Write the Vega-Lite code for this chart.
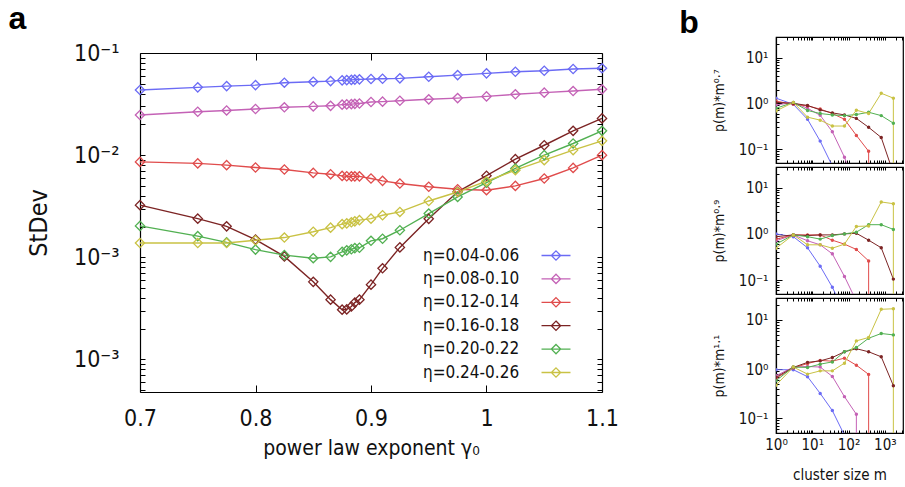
{
  "$schema": "https://vega.github.io/schema/vega-lite/v6.json",
  "padding": {"left": 8, "top": 3, "right": 0, "bottom": 0},
  "spacing": 59,
  "config": {
    "view": {"stroke": "#000", "strokeWidth": 1.2},
    "axis": {"grid": false, "labelFont": "DejaVu Sans Condensed, DejaVu Sans", "titleFont": "DejaVu Sans Condensed, DejaVu Sans", "domainColor": "#000", "domainWidth": 1.2, "tickColor": "#000", "labelColor": "#111", "titleColor": "#111", "titleFontWeight": "normal", "labelOverlap": false, "labelFlush": false},
    "title": {"font": "Liberation Sans", "fontWeight": "bold", "fontSize": 32, "color": "#000"}
  },
  "datasets": {
    "a": [
      {"g":0.7,"s":0.0434,"e":"η=0.04-0.06"},{"g":0.75,"s":0.0461,"e":"η=0.04-0.06"},{"g":0.775,"s":0.0474,"e":"η=0.04-0.06"},{"g":0.8,"s":0.0485,"e":"η=0.04-0.06"},{"g":0.825,"s":0.0512,"e":"η=0.04-0.06"},{"g":0.85,"s":0.0523,"e":"η=0.04-0.06"},{"g":0.865,"s":0.0531,"e":"η=0.04-0.06"},{"g":0.875,"s":0.054,"e":"η=0.04-0.06"},{"g":0.879,"s":0.0543,"e":"η=0.04-0.06"},{"g":0.883,"s":0.0546,"e":"η=0.04-0.06"},{"g":0.886,"s":0.0549,"e":"η=0.04-0.06"},{"g":0.89,"s":0.0552,"e":"η=0.04-0.06"},{"g":0.9,"s":0.0556,"e":"η=0.04-0.06"},{"g":0.91,"s":0.056,"e":"η=0.04-0.06"},{"g":0.925,"s":0.0565,"e":"η=0.04-0.06"},{"g":0.95,"s":0.0586,"e":"η=0.04-0.06"},{"g":0.975,"s":0.0608,"e":"η=0.04-0.06"},{"g":1.0,"s":0.0632,"e":"η=0.04-0.06"},{"g":1.025,"s":0.0656,"e":"η=0.04-0.06"},{"g":1.05,"s":0.067,"e":"η=0.04-0.06"},{"g":1.075,"s":0.0697,"e":"η=0.04-0.06"},{"g":1.1,"s":0.0708,"e":"η=0.04-0.06"},
      {"g":0.7,"s":0.0247,"e":"η=0.08-0.10"},{"g":0.75,"s":0.0266,"e":"η=0.08-0.10"},{"g":0.775,"s":0.0274,"e":"η=0.08-0.10"},{"g":0.8,"s":0.0283,"e":"η=0.08-0.10"},{"g":0.825,"s":0.0294,"e":"η=0.08-0.10"},{"g":0.85,"s":0.03,"e":"η=0.08-0.10"},{"g":0.865,"s":0.0304,"e":"η=0.08-0.10"},{"g":0.875,"s":0.0312,"e":"η=0.08-0.10"},{"g":0.879,"s":0.0314,"e":"η=0.08-0.10"},{"g":0.883,"s":0.0316,"e":"η=0.08-0.10"},{"g":0.886,"s":0.0318,"e":"η=0.08-0.10"},{"g":0.89,"s":0.032,"e":"η=0.08-0.10"},{"g":0.9,"s":0.0331,"e":"η=0.08-0.10"},{"g":0.91,"s":0.0334,"e":"η=0.08-0.10"},{"g":0.925,"s":0.0341,"e":"η=0.08-0.10"},{"g":0.95,"s":0.0352,"e":"η=0.08-0.10"},{"g":0.975,"s":0.0362,"e":"η=0.08-0.10"},{"g":1.0,"s":0.0376,"e":"η=0.08-0.10"},{"g":1.025,"s":0.0394,"e":"η=0.08-0.10"},{"g":1.05,"s":0.0409,"e":"η=0.08-0.10"},{"g":1.075,"s":0.0424,"e":"η=0.08-0.10"},{"g":1.1,"s":0.0441,"e":"η=0.08-0.10"},
      {"g":0.7,"s":0.00859,"e":"η=0.12-0.14"},{"g":0.75,"s":0.0083,"e":"η=0.12-0.14"},{"g":0.775,"s":0.00798,"e":"η=0.12-0.14"},{"g":0.8,"s":0.00757,"e":"η=0.12-0.14"},{"g":0.825,"s":0.00724,"e":"η=0.12-0.14"},{"g":0.85,"s":0.0067,"e":"η=0.12-0.14"},{"g":0.865,"s":0.00651,"e":"η=0.12-0.14"},{"g":0.875,"s":0.00626,"e":"η=0.12-0.14"},{"g":0.879,"s":0.00622,"e":"η=0.12-0.14"},{"g":0.883,"s":0.0062,"e":"η=0.12-0.14"},{"g":0.886,"s":0.0062,"e":"η=0.12-0.14"},{"g":0.89,"s":0.0062,"e":"η=0.12-0.14"},{"g":0.9,"s":0.00591,"e":"η=0.12-0.14"},{"g":0.91,"s":0.0056,"e":"η=0.12-0.14"},{"g":0.925,"s":0.00528,"e":"η=0.12-0.14"},{"g":0.95,"s":0.0049,"e":"η=0.12-0.14"},{"g":0.975,"s":0.00464,"e":"η=0.12-0.14"},{"g":1.0,"s":0.00454,"e":"η=0.12-0.14"},{"g":1.025,"s":0.005,"e":"η=0.12-0.14"},{"g":1.05,"s":0.00591,"e":"η=0.12-0.14"},{"g":1.075,"s":0.0075,"e":"η=0.12-0.14"},{"g":1.1,"s":0.01,"e":"η=0.12-0.14"},
      {"g":0.7,"s":0.00324,"e":"η=0.16-0.18"},{"g":0.75,"s":0.00239,"e":"η=0.16-0.18"},{"g":0.775,"s":0.00201,"e":"η=0.16-0.18"},{"g":0.8,"s":0.00149,"e":"η=0.16-0.18"},{"g":0.825,"s":0.00102,"e":"η=0.16-0.18"},{"g":0.85,"s":0.000575,"e":"η=0.16-0.18"},{"g":0.865,"s":0.000385,"e":"η=0.16-0.18"},{"g":0.875,"s":0.000307,"e":"η=0.16-0.18"},{"g":0.879,"s":0.000309,"e":"η=0.16-0.18"},{"g":0.883,"s":0.00033,"e":"η=0.16-0.18"},{"g":0.886,"s":0.00036,"e":"η=0.16-0.18"},{"g":0.89,"s":0.000385,"e":"η=0.16-0.18"},{"g":0.9,"s":0.00054,"e":"η=0.16-0.18"},{"g":0.91,"s":0.00078,"e":"η=0.16-0.18"},{"g":0.925,"s":0.00125,"e":"η=0.16-0.18"},{"g":0.95,"s":0.00238,"e":"η=0.16-0.18"},{"g":0.975,"s":0.00438,"e":"η=0.16-0.18"},{"g":1.0,"s":0.00629,"e":"η=0.16-0.18"},{"g":1.025,"s":0.00914,"e":"η=0.16-0.18"},{"g":1.05,"s":0.0125,"e":"η=0.16-0.18"},{"g":1.075,"s":0.0173,"e":"η=0.16-0.18"},{"g":1.1,"s":0.0229,"e":"η=0.16-0.18"},
      {"g":0.7,"s":0.00203,"e":"η=0.20-0.22"},{"g":0.75,"s":0.00161,"e":"η=0.20-0.22"},{"g":0.775,"s":0.0014,"e":"η=0.20-0.22"},{"g":0.8,"s":0.00119,"e":"η=0.20-0.22"},{"g":0.825,"s":0.00105,"e":"η=0.20-0.22"},{"g":0.85,"s":0.00098,"e":"η=0.20-0.22"},{"g":0.865,"s":0.00101,"e":"η=0.20-0.22"},{"g":0.875,"s":0.00113,"e":"η=0.20-0.22"},{"g":0.879,"s":0.00117,"e":"η=0.20-0.22"},{"g":0.883,"s":0.0012,"e":"η=0.20-0.22"},{"g":0.886,"s":0.00123,"e":"η=0.20-0.22"},{"g":0.89,"s":0.00124,"e":"η=0.20-0.22"},{"g":0.9,"s":0.00145,"e":"η=0.20-0.22"},{"g":0.91,"s":0.00152,"e":"η=0.20-0.22"},{"g":0.925,"s":0.00184,"e":"η=0.20-0.22"},{"g":0.95,"s":0.00268,"e":"η=0.20-0.22"},{"g":0.975,"s":0.0039,"e":"η=0.20-0.22"},{"g":1.0,"s":0.00537,"e":"η=0.20-0.22"},{"g":1.025,"s":0.00741,"e":"η=0.20-0.22"},{"g":1.05,"s":0.01,"e":"η=0.20-0.22"},{"g":1.075,"s":0.013,"e":"η=0.20-0.22"},{"g":1.1,"s":0.0173,"e":"η=0.20-0.22"},
      {"g":0.7,"s":0.00138,"e":"η=0.24-0.26"},{"g":0.75,"s":0.00138,"e":"η=0.24-0.26"},{"g":0.775,"s":0.00138,"e":"η=0.24-0.26"},{"g":0.8,"s":0.00147,"e":"η=0.24-0.26"},{"g":0.825,"s":0.00156,"e":"η=0.24-0.26"},{"g":0.85,"s":0.00178,"e":"η=0.24-0.26"},{"g":0.865,"s":0.00195,"e":"η=0.24-0.26"},{"g":0.875,"s":0.00211,"e":"η=0.24-0.26"},{"g":0.879,"s":0.00215,"e":"η=0.24-0.26"},{"g":0.883,"s":0.0022,"e":"η=0.24-0.26"},{"g":0.886,"s":0.00225,"e":"η=0.24-0.26"},{"g":0.89,"s":0.00231,"e":"η=0.24-0.26"},{"g":0.9,"s":0.00239,"e":"η=0.24-0.26"},{"g":0.91,"s":0.00258,"e":"η=0.24-0.26"},{"g":0.925,"s":0.00278,"e":"η=0.24-0.26"},{"g":0.95,"s":0.00356,"e":"η=0.24-0.26"},{"g":0.975,"s":0.00436,"e":"η=0.24-0.26"},{"g":1.0,"s":0.00556,"e":"η=0.24-0.26"},{"g":1.025,"s":0.00713,"e":"η=0.24-0.26"},{"g":1.05,"s":0.00893,"e":"η=0.24-0.26"},{"g":1.075,"s":0.0112,"e":"η=0.24-0.26"},{"g":1.1,"s":0.0138,"e":"η=0.24-0.26"}
    ],
    "b": [
      {"p":0.7,"m":1,"v":1.3,"e":"η=0.04-0.06","i":0},{"p":0.7,"m":3,"v":0.95,"e":"η=0.04-0.06","i":1},{"p":0.7,"m":7.4,"v":0.45,"e":"η=0.04-0.06","i":2},{"p":0.7,"m":16.5,"v":0.15,"e":"η=0.04-0.06","i":3},{"p":0.7,"m":35.7,"v":0.043,"e":"η=0.04-0.06","i":4},
      {"p":0.7,"m":1,"v":0.92,"e":"η=0.08-0.10","i":0},{"p":0.7,"m":3,"v":1.05,"e":"η=0.08-0.10","i":1},{"p":0.7,"m":7.4,"v":0.78,"e":"η=0.08-0.10","i":2},{"p":0.7,"m":16.5,"v":0.55,"e":"η=0.08-0.10","i":3},{"p":0.7,"m":35.7,"v":0.24,"e":"η=0.08-0.10","i":4},{"p":0.7,"m":77,"v":0.067,"e":"η=0.08-0.10","i":5},{"p":0.7,"m":164,"v":0.012,"e":"η=0.08-0.10","i":6},
      {"p":0.7,"m":1,"v":1.12,"e":"η=0.12-0.14","i":0},{"p":0.7,"m":3,"v":0.95,"e":"η=0.12-0.14","i":1},{"p":0.7,"m":7.4,"v":0.88,"e":"η=0.12-0.14","i":2},{"p":0.7,"m":16.5,"v":0.75,"e":"η=0.12-0.14","i":3},{"p":0.7,"m":35.7,"v":0.6,"e":"η=0.12-0.14","i":4},{"p":0.7,"m":77,"v":0.45,"e":"η=0.12-0.14","i":5},{"p":0.7,"m":164,"v":0.2,"e":"η=0.12-0.14","i":6},{"p":0.7,"m":357,"v":0.09,"e":"η=0.12-0.14","i":7},{"p":0.7,"m":357,"v":0.001,"e":"η=0.12-0.14","i":8},
      {"p":0.7,"m":1,"v":1.05,"e":"η=0.16-0.18","i":0},{"p":0.7,"m":3,"v":1.0,"e":"η=0.16-0.18","i":1},{"p":0.7,"m":7.4,"v":0.9,"e":"η=0.16-0.18","i":2},{"p":0.7,"m":16.5,"v":0.72,"e":"η=0.16-0.18","i":3},{"p":0.7,"m":35.7,"v":0.62,"e":"η=0.16-0.18","i":4},{"p":0.7,"m":77,"v":0.56,"e":"η=0.16-0.18","i":5},{"p":0.7,"m":164,"v":0.47,"e":"η=0.16-0.18","i":6},{"p":0.7,"m":357,"v":0.3,"e":"η=0.16-0.18","i":7},{"p":0.7,"m":795,"v":0.18,"e":"η=0.16-0.18","i":8},{"p":0.7,"m":1715,"v":0.03,"e":"η=0.16-0.18","i":9},
      {"p":0.7,"m":1,"v":0.78,"e":"η=0.20-0.22","i":0},{"p":0.7,"m":3,"v":1.05,"e":"η=0.20-0.22","i":1},{"p":0.7,"m":7.4,"v":0.7,"e":"η=0.20-0.22","i":2},{"p":0.7,"m":16.5,"v":0.6,"e":"η=0.20-0.22","i":3},{"p":0.7,"m":35.7,"v":0.56,"e":"η=0.20-0.22","i":4},{"p":0.7,"m":77,"v":0.54,"e":"η=0.20-0.22","i":5},{"p":0.7,"m":164,"v":0.57,"e":"η=0.20-0.22","i":6},{"p":0.7,"m":357,"v":0.64,"e":"η=0.20-0.22","i":7},{"p":0.7,"m":795,"v":0.54,"e":"η=0.20-0.22","i":8},{"p":0.7,"m":1715,"v":0.37,"e":"η=0.20-0.22","i":9},
      {"p":0.7,"m":1,"v":0.68,"e":"η=0.24-0.26","i":0},{"p":0.7,"m":3,"v":1.05,"e":"η=0.24-0.26","i":1},{"p":0.7,"m":7.4,"v":0.5,"e":"η=0.24-0.26","i":2},{"p":0.7,"m":16.5,"v":0.43,"e":"η=0.24-0.26","i":3},{"p":0.7,"m":35.7,"v":0.32,"e":"η=0.24-0.26","i":4},{"p":0.7,"m":77,"v":0.32,"e":"η=0.24-0.26","i":5},{"p":0.7,"m":164,"v":0.71,"e":"η=0.24-0.26","i":6},{"p":0.7,"m":357,"v":0.6,"e":"η=0.24-0.26","i":7},{"p":0.7,"m":795,"v":1.66,"e":"η=0.24-0.26","i":8},{"p":0.7,"m":1715,"v":1.3,"e":"η=0.24-0.26","i":9},{"p":0.7,"m":1715,"v":0.001,"e":"η=0.24-0.26","i":10},
      {"p":0.9,"m":1,"v":1.0,"e":"η=0.04-0.06","i":0},{"p":0.9,"m":3,"v":0.87,"e":"η=0.04-0.06","i":1},{"p":0.9,"m":7.4,"v":0.5,"e":"η=0.04-0.06","i":2},{"p":0.9,"m":16.5,"v":0.2,"e":"η=0.04-0.06","i":3},{"p":0.9,"m":35.7,"v":0.07,"e":"η=0.04-0.06","i":4},{"p":0.9,"m":77,"v":0.02,"e":"η=0.04-0.06","i":5},
      {"p":0.9,"m":1,"v":0.71,"e":"η=0.08-0.10","i":0},{"p":0.9,"m":3,"v":0.95,"e":"η=0.08-0.10","i":1},{"p":0.9,"m":7.4,"v":0.71,"e":"η=0.08-0.10","i":2},{"p":0.9,"m":16.5,"v":0.58,"e":"η=0.08-0.10","i":3},{"p":0.9,"m":35.7,"v":0.37,"e":"η=0.08-0.10","i":4},{"p":0.9,"m":77,"v":0.12,"e":"η=0.08-0.10","i":5},{"p":0.9,"m":164,"v":0.035,"e":"η=0.08-0.10","i":6},
      {"p":0.9,"m":1,"v":0.77,"e":"η=0.12-0.14","i":0},{"p":0.9,"m":3,"v":0.95,"e":"η=0.12-0.14","i":1},{"p":0.9,"m":7.4,"v":0.95,"e":"η=0.12-0.14","i":2},{"p":0.9,"m":16.5,"v":0.95,"e":"η=0.12-0.14","i":3},{"p":0.9,"m":35.7,"v":0.73,"e":"η=0.12-0.14","i":4},{"p":0.9,"m":77,"v":0.6,"e":"η=0.12-0.14","i":5},{"p":0.9,"m":164,"v":0.46,"e":"η=0.12-0.14","i":6},{"p":0.9,"m":357,"v":0.26,"e":"η=0.12-0.14","i":7},{"p":0.9,"m":357,"v":0.001,"e":"η=0.12-0.14","i":8},
      {"p":0.9,"m":1,"v":0.87,"e":"η=0.16-0.18","i":0},{"p":0.9,"m":3,"v":0.95,"e":"η=0.16-0.18","i":1},{"p":0.9,"m":7.4,"v":0.92,"e":"η=0.16-0.18","i":2},{"p":0.9,"m":16.5,"v":0.95,"e":"η=0.16-0.18","i":3},{"p":0.9,"m":35.7,"v":0.95,"e":"η=0.16-0.18","i":4},{"p":0.9,"m":77,"v":1.0,"e":"η=0.16-0.18","i":5},{"p":0.9,"m":164,"v":1.03,"e":"η=0.16-0.18","i":6},{"p":0.9,"m":357,"v":0.73,"e":"η=0.16-0.18","i":7},{"p":0.9,"m":795,"v":0.5,"e":"η=0.16-0.18","i":8},{"p":0.9,"m":1715,"v":0.105,"e":"η=0.16-0.18","i":9},
      {"p":0.9,"m":1,"v":0.6,"e":"η=0.20-0.22","i":0},{"p":0.9,"m":3,"v":0.95,"e":"η=0.20-0.22","i":1},{"p":0.9,"m":7.4,"v":0.87,"e":"η=0.20-0.22","i":2},{"p":0.9,"m":16.5,"v":0.77,"e":"η=0.20-0.22","i":3},{"p":0.9,"m":35.7,"v":0.92,"e":"η=0.20-0.22","i":4},{"p":0.9,"m":77,"v":1.0,"e":"η=0.20-0.22","i":5},{"p":0.9,"m":164,"v":1.09,"e":"η=0.20-0.22","i":6},{"p":0.9,"m":357,"v":1.58,"e":"η=0.20-0.22","i":7},{"p":0.9,"m":795,"v":1.58,"e":"η=0.20-0.22","i":8},{"p":0.9,"m":1715,"v":1.25,"e":"η=0.20-0.22","i":9},
      {"p":0.9,"m":1,"v":0.49,"e":"η=0.24-0.26","i":0},{"p":0.9,"m":3,"v":0.95,"e":"η=0.24-0.26","i":1},{"p":0.9,"m":7.4,"v":0.58,"e":"η=0.24-0.26","i":2},{"p":0.9,"m":16.5,"v":0.58,"e":"η=0.24-0.26","i":3},{"p":0.9,"m":35.7,"v":0.49,"e":"η=0.24-0.26","i":4},{"p":0.9,"m":77,"v":0.6,"e":"η=0.24-0.26","i":5},{"p":0.9,"m":164,"v":1.45,"e":"η=0.24-0.26","i":6},{"p":0.9,"m":357,"v":1.48,"e":"η=0.24-0.26","i":7},{"p":0.9,"m":795,"v":4.9,"e":"η=0.24-0.26","i":8},{"p":0.9,"m":1715,"v":4.5,"e":"η=0.24-0.26","i":9},{"p":0.9,"m":1715,"v":0.001,"e":"η=0.24-0.26","i":10},
      {"p":1.1,"m":1,"v":0.97,"e":"η=0.04-0.06","i":0},{"p":1.1,"m":3,"v":0.97,"e":"η=0.04-0.06","i":1},{"p":1.1,"m":7.4,"v":0.7,"e":"η=0.04-0.06","i":2},{"p":1.1,"m":16.5,"v":0.32,"e":"η=0.04-0.06","i":3},{"p":1.1,"m":35.7,"v":0.143,"e":"η=0.04-0.06","i":4},{"p":1.1,"m":77,"v":0.045,"e":"η=0.04-0.06","i":5},
      {"p":1.1,"m":1,"v":0.73,"e":"η=0.08-0.10","i":0},{"p":1.1,"m":3,"v":1.1,"e":"η=0.08-0.10","i":1},{"p":1.1,"m":7.4,"v":1.13,"e":"η=0.08-0.10","i":2},{"p":1.1,"m":16.5,"v":1.1,"e":"η=0.08-0.10","i":3},{"p":1.1,"m":35.7,"v":0.71,"e":"η=0.08-0.10","i":4},{"p":1.1,"m":77,"v":0.275,"e":"η=0.08-0.10","i":5},{"p":1.1,"m":164,"v":0.12,"e":"η=0.08-0.10","i":6},{"p":1.1,"m":164,"v":0.001,"e":"η=0.08-0.10","i":7},
      {"p":1.1,"m":1,"v":0.65,"e":"η=0.12-0.14","i":0},{"p":1.1,"m":3,"v":1.05,"e":"η=0.12-0.14","i":1},{"p":1.1,"m":7.4,"v":1.3,"e":"η=0.12-0.14","i":2},{"p":1.1,"m":16.5,"v":1.5,"e":"η=0.12-0.14","i":3},{"p":1.1,"m":35.7,"v":1.45,"e":"η=0.12-0.14","i":4},{"p":1.1,"m":77,"v":1.67,"e":"η=0.12-0.14","i":5},{"p":1.1,"m":164,"v":1.2,"e":"η=0.12-0.14","i":6},{"p":1.1,"m":357,"v":0.78,"e":"η=0.12-0.14","i":7},{"p":1.1,"m":357,"v":0.001,"e":"η=0.12-0.14","i":8},
      {"p":1.1,"m":1,"v":0.68,"e":"η=0.16-0.18","i":0},{"p":1.1,"m":3,"v":1.08,"e":"η=0.16-0.18","i":1},{"p":1.1,"m":7.4,"v":1.37,"e":"η=0.16-0.18","i":2},{"p":1.1,"m":16.5,"v":1.47,"e":"η=0.16-0.18","i":3},{"p":1.1,"m":35.7,"v":1.72,"e":"η=0.16-0.18","i":4},{"p":1.1,"m":77,"v":2.25,"e":"η=0.16-0.18","i":5},{"p":1.1,"m":164,"v":2.6,"e":"η=0.16-0.18","i":6},{"p":1.1,"m":357,"v":2.25,"e":"η=0.16-0.18","i":7},{"p":1.1,"m":795,"v":1.78,"e":"η=0.16-0.18","i":8},{"p":1.1,"m":1715,"v":0.46,"e":"η=0.16-0.18","i":9},
      {"p":1.1,"m":1,"v":0.58,"e":"η=0.20-0.22","i":0},{"p":1.1,"m":3,"v":1.1,"e":"η=0.20-0.22","i":1},{"p":1.1,"m":7.4,"v":1.08,"e":"η=0.20-0.22","i":2},{"p":1.1,"m":16.5,"v":1.26,"e":"η=0.20-0.22","i":3},{"p":1.1,"m":35.7,"v":1.4,"e":"η=0.20-0.22","i":4},{"p":1.1,"m":77,"v":2.25,"e":"η=0.20-0.22","i":5},{"p":1.1,"m":164,"v":2.75,"e":"η=0.20-0.22","i":6},{"p":1.1,"m":357,"v":4.25,"e":"η=0.20-0.22","i":7},{"p":1.1,"m":795,"v":5.3,"e":"η=0.20-0.22","i":8},{"p":1.1,"m":1715,"v":4.97,"e":"η=0.20-0.22","i":9},
      {"p":1.1,"m":1,"v":0.47,"e":"η=0.24-0.26","i":0},{"p":1.1,"m":3,"v":1.1,"e":"η=0.24-0.26","i":1},{"p":1.1,"m":7.4,"v":0.79,"e":"η=0.24-0.26","i":2},{"p":1.1,"m":16.5,"v":0.92,"e":"η=0.24-0.26","i":3},{"p":1.1,"m":35.7,"v":0.92,"e":"η=0.24-0.26","i":4},{"p":1.1,"m":77,"v":1.32,"e":"η=0.24-0.26","i":5},{"p":1.1,"m":164,"v":3.75,"e":"η=0.24-0.26","i":6},{"p":1.1,"m":357,"v":4.4,"e":"η=0.24-0.26","i":7},{"p":1.1,"m":795,"v":16.5,"e":"η=0.24-0.26","i":8},{"p":1.1,"m":1715,"v":16.9,"e":"η=0.24-0.26","i":9},{"p":1.1,"m":1715,"v":0.001,"e":"η=0.24-0.26","i":10}
    ]
  },
  "hconcat": [
    {
      "width": 462, "height": 355,
      "view": {"stroke": null},
      "title": {"text": "a", "anchor": "start", "frame": "bounds", "offset": 1, "dx": -18},
      "data": {"name": "a"},
      "layer": [
        {
          "mark": {"type": "line", "strokeWidth": 1.4},
          "encoding": {
            "x": {"field": "g", "type": "quantitative", "scale": {"domain": [0.7, 1.1], "nice": false, "zero": false},
              "axis": {"orient": "bottom", "values": [0.7, 0.8, 0.9, 1.0, 1.1], "format": "~g", "tickSize": -7, "labelPadding": 22, "labelFontSize": 23, "title": "power law exponent γ₀", "titleFontSize": 21, "titlePadding": 7}},
            "y": {"field": "s", "type": "quantitative", "scale": {"type": "log", "domain": [0.000048, 0.1], "range": [355, 16], "nice": false},
              "axis": {"orient": "left", "values": [0.00005,0.00006,0.00007,0.00008,0.00009,0.0001,0.0002,0.0003,0.0004,0.0005,0.0006,0.0007,0.0008,0.0009,0.001,0.002,0.003,0.004,0.005,0.006,0.007,0.008,0.009,0.01,0.02,0.03,0.04,0.05,0.06,0.07,0.08,0.09,0.1],
                "labelExpr": "datum.value == 0.1 ? '10⁻¹' : datum.value == 0.01 ? '10⁻²' : datum.value == 0.001 ? '10⁻³' : datum.value == 0.0001 ? '10⁻³' : ''",
                "labelFontSize": {"condition": {"test": "datum.value == 0.1 || datum.value == 0.01 || datum.value == 0.001 || datum.value == 0.0001", "value": 23}, "value": 0},
                "tickSize": -5, "labelPadding": 26, "title": "StDev", "titleFontSize": 25, "titlePadding": 22}},
            "color": {"field": "e", "type": "nominal",
              "scale": {"domain": ["η=0.04-0.06","η=0.08-0.10","η=0.12-0.14","η=0.16-0.18","η=0.20-0.22","η=0.24-0.26"], "range": ["#6b6bf5","#c462b6","#e04c4c","#7c2424","#52b052","#c9c244"]},
              "legend": {"title": null, "orient": "none", "legendX": 283, "legendY": 210, "padding": 0, "rowPadding": 5.4, "labelFont": "DejaVu Sans Condensed, DejaVu Sans", "labelFontSize": 17, "labelColor": "#111", "labelLimit": 300,
                "symbolType": "M-2,0H2M0,-0.64L0.64,0L0,0.64L-0.64,0Z", "symbolSize": 210, "symbolStrokeWidth": 1.3, "symbolFillColor": "transparent",
                "encode": {"symbols": {"update": {"x": {"value": 133}, "fill": {"value": "transparent"}, "fillOpacity": {"value": 0}}}, "labels": {"update": {"x": {"value": 0}}}}}}
          }
        },
        {
          "mark": {"type": "point", "shape": "diamond", "filled": false, "size": 86, "strokeWidth": 1.3, "opacity": 1},
          "encoding": {
            "x": {"field": "g", "type": "quantitative", "scale": {"domain": [0.7, 1.1], "nice": false, "zero": false},
              "axis": {"orient": "top", "offset": -16, "values": [0.8, 0.9, 1.0], "labels": false, "tickSize": -7, "title": null}},
            "y": {"field": "s", "type": "quantitative", "scale": {"type": "log", "domain": [0.000048, 0.1], "range": [355, 16], "nice": false},
              "axis": {"orient": "right", "values": [0.00005,0.00006,0.00007,0.00008,0.00009,0.0001,0.0002,0.0003,0.0004,0.0005,0.0006,0.0007,0.0008,0.0009,0.001,0.002,0.003,0.004,0.005,0.006,0.007,0.008,0.009,0.01,0.02,0.03,0.04,0.05,0.06,0.07,0.08,0.09,0.1], "labels": false, "tickSize": -5, "title": null}},
            "color": {"field": "e", "type": "nominal"}
          }
        }
      ],
      "resolve": {"axis": {"x": "independent", "y": "independent"}}
    },
    {
      "spacing": 0,
      "vconcat": [
        {
          "width": 127, "height": 126,
          "title": {"text": "b", "anchor": "start", "frame": "bounds", "offset": -3, "dx": -33},
          "data": {"name": "b"},
          "transform": [{"filter": "datum.p == 0.7"}],
          "layer": [
            {"mark": {"type": "line", "strokeWidth": 1, "clip": true},
             "encoding": {
               "x": {"field": "m", "type": "quantitative", "scale": {"type": "log", "domain": [1, 3162], "nice": false},
                 "axis": {"orient": "bottom", "values": [1,2,3,4,5,6,7,8,9,10,20,30,40,50,60,70,80,90,100,200,300,400,500,600,700,800,900,1000,2000,3000], "labels": false, "tickSize": -3, "title": null}},
               "y": {"field": "v", "type": "quantitative", "scale": {"type": "log", "domain": [0.05, 28], "nice": false},
                 "axis": {"orient": "left", "values": [0.06,0.07,0.08,0.09,0.1,0.2,0.3,0.4,0.5,0.6,0.7,0.8,0.9,1,2,3,4,5,6,7,8,9,10,20], "labelExpr": "datum.value == 10 ? '10¹' : datum.value == 1 ? '10⁰' : datum.value == 0.1 ? '10⁻¹' : ''", "labelFontSize": {"condition": {"test": "datum.value == 0.1 || datum.value == 1 || datum.value == 10", "value": 15}, "value": 0}, "tickSize": -3, "labelPadding": 11, "title": "p(m)*m⁰·⁷", "titleFontSize": 14, "titlePadding": 12}},
               "color": {"field": "e", "type": "nominal", "legend": null},
               "order": {"field": "i", "type": "quantitative"}
             }},
            {"transform": [{"filter": "datum.v > 0.002"}],
             "mark": {"type": "point", "shape": "circle", "filled": true, "size": 12, "opacity": 1, "clip": true},
             "encoding": {
               "x": {"field": "m", "type": "quantitative", "scale": {"type": "log", "domain": [1, 3162], "nice": false},
                 "axis": {"orient": "top", "values": [1,2,3,4,5,6,7,8,9,10,20,30,40,50,60,70,80,90,100,200,300,400,500,600,700,800,900,1000,2000,3000], "labels": false, "tickSize": -3, "title": null}},
               "y": {"field": "v", "type": "quantitative", "scale": {"type": "log", "domain": [0.05, 28], "nice": false},
                 "axis": {"orient": "left", "values": [0.1, 1, 10], "labels": false, "domain": false, "tickSize": -6, "title": null}},
               "color": {"field": "e", "type": "nominal", "legend": null}
             }}
          ],
          "resolve": {"axis": {"x": "independent", "y": "independent"}}
        },
        {
          "width": 127, "height": 127,
          "data": {"name": "b"},
          "transform": [{"filter": "datum.p == 0.9"}],
          "layer": [
            {"mark": {"type": "line", "strokeWidth": 1, "clip": true},
             "encoding": {
               "x": {"field": "m", "type": "quantitative", "scale": {"type": "log", "domain": [1, 3162], "nice": false},
                 "axis": {"orient": "bottom", "values": [1,2,3,4,5,6,7,8,9,10,20,30,40,50,60,70,80,90,100,200,300,400,500,600,700,800,900,1000,2000,3000], "labels": false, "tickSize": -3, "title": null}},
               "y": {"field": "v", "type": "quantitative", "scale": {"type": "log", "domain": [0.05, 28], "nice": false},
                 "axis": {"orient": "left", "values": [0.06,0.07,0.08,0.09,0.1,0.2,0.3,0.4,0.5,0.6,0.7,0.8,0.9,1,2,3,4,5,6,7,8,9,10,20], "labelExpr": "datum.value == 10 ? '10¹' : datum.value == 1 ? '10⁰' : datum.value == 0.1 ? '10⁻¹' : ''", "labelFontSize": {"condition": {"test": "datum.value == 0.1 || datum.value == 1 || datum.value == 10", "value": 15}, "value": 0}, "tickSize": -3, "labelPadding": 11, "title": "p(m)*m⁰·⁹", "titleFontSize": 14, "titlePadding": 12}},
               "color": {"field": "e", "type": "nominal", "legend": null},
               "order": {"field": "i", "type": "quantitative"}
             }},
            {"transform": [{"filter": "datum.v > 0.002"}],
             "mark": {"type": "point", "shape": "circle", "filled": true, "size": 12, "opacity": 1, "clip": true},
             "encoding": {
               "x": {"field": "m", "type": "quantitative", "scale": {"type": "log", "domain": [1, 3162], "nice": false},
                 "axis": {"orient": "top", "values": [1,2,3,4,5,6,7,8,9,10,20,30,40,50,60,70,80,90,100,200,300,400,500,600,700,800,900,1000,2000,3000], "labels": false, "tickSize": -3, "title": null}},
               "y": {"field": "v", "type": "quantitative", "scale": {"type": "log", "domain": [0.05, 28], "nice": false},
                 "axis": {"orient": "left", "values": [0.1, 1, 10], "labels": false, "domain": false, "tickSize": -6, "title": null}},
               "color": {"field": "e", "type": "nominal", "legend": null}
             }}
          ],
          "resolve": {"axis": {"x": "independent", "y": "independent"}}
        },
        {
          "width": 127, "height": 135,
          "data": {"name": "b"},
          "transform": [{"filter": "datum.p == 1.1"}],
          "layer": [
            {"mark": {"type": "line", "strokeWidth": 1, "clip": true},
             "encoding": {
               "x": {"field": "m", "type": "quantitative", "scale": {"type": "log", "domain": [1, 3162], "nice": false},
                 "axis": {"orient": "bottom", "values": [1,2,3,4,5,6,7,8,9,10,20,30,40,50,60,70,80,90,100,200,300,400,500,600,700,800,900,1000,2000,3000], "labelExpr": "datum.value == 1 ? '10⁰' : datum.value == 10 ? '10¹' : datum.value == 100 ? '10²' : datum.value == 1000 ? '10³' : ''", "tickSize": -3, "labelPadding": 7, "labelFontSize": 15, "title": "cluster size m", "titleFontSize": 15, "titlePadding": 15}},
               "y": {"field": "v", "type": "quantitative", "scale": {"type": "log", "domain": [0.05, 28], "nice": false},
                 "axis": {"orient": "left", "values": [0.06,0.07,0.08,0.09,0.1,0.2,0.3,0.4,0.5,0.6,0.7,0.8,0.9,1,2,3,4,5,6,7,8,9,10,20], "labelExpr": "datum.value == 10 ? '10¹' : datum.value == 1 ? '10⁰' : datum.value == 0.1 ? '10⁻¹' : ''", "labelFontSize": {"condition": {"test": "datum.value == 0.1 || datum.value == 1 || datum.value == 10", "value": 15}, "value": 0}, "tickSize": -3, "labelPadding": 11, "title": "p(m)*m¹·¹", "titleFontSize": 14, "titlePadding": 12}},
               "color": {"field": "e", "type": "nominal", "legend": null},
               "order": {"field": "i", "type": "quantitative"}
             }},
            {"transform": [{"filter": "datum.v > 0.002"}],
             "mark": {"type": "point", "shape": "circle", "filled": true, "size": 12, "opacity": 1, "clip": true},
             "encoding": {
               "x": {"field": "m", "type": "quantitative", "scale": {"type": "log", "domain": [1, 3162], "nice": false},
                 "axis": {"orient": "top", "values": [1,2,3,4,5,6,7,8,9,10,20,30,40,50,60,70,80,90,100,200,300,400,500,600,700,800,900,1000,2000,3000], "labels": false, "tickSize": -3, "title": null}},
               "y": {"field": "v", "type": "quantitative", "scale": {"type": "log", "domain": [0.05, 28], "nice": false},
                 "axis": {"orient": "left", "values": [0.1, 1, 10], "labels": false, "domain": false, "tickSize": -6, "title": null}},
               "color": {"field": "e", "type": "nominal", "legend": null}
             }}
          ],
          "resolve": {"axis": {"x": "independent", "y": "independent"}}
        }
      ]
    }
  ]
}
